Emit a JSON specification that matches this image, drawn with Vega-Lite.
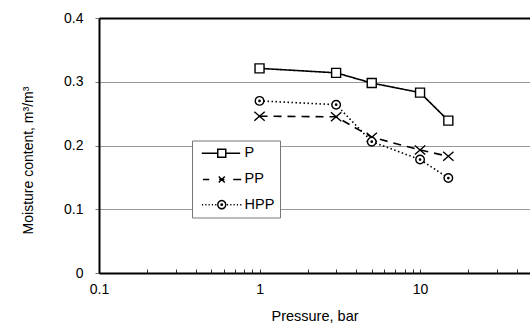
{
  "$schema": "https://vega.github.io/schema/vega-lite/v6.json",
  "width": 431,
  "height": 255,
  "autosize": {"type": "none"},
  "padding": {"left": 99, "top": 18, "right": 0, "bottom": 51},
  "background": "white",
  "config": {
    "view": {"stroke": null},
    "font": "Liberation Sans"
  },
  "data": {
    "values": [
      {"series": "P", "pressure": 1, "moisture": 0.321},
      {"series": "P", "pressure": 3, "moisture": 0.314},
      {"series": "P", "pressure": 5, "moisture": 0.298},
      {"series": "P", "pressure": 10, "moisture": 0.283},
      {"series": "P", "pressure": 15, "moisture": 0.239},
      {"series": "PP", "pressure": 1, "moisture": 0.246},
      {"series": "PP", "pressure": 3, "moisture": 0.245},
      {"series": "PP", "pressure": 5, "moisture": 0.213},
      {"series": "PP", "pressure": 10, "moisture": 0.193},
      {"series": "PP", "pressure": 15, "moisture": 0.183},
      {"series": "HPP", "pressure": 1, "moisture": 0.27},
      {"series": "HPP", "pressure": 3, "moisture": 0.264},
      {"series": "HPP", "pressure": 5, "moisture": 0.206},
      {"series": "HPP", "pressure": 10, "moisture": 0.178},
      {"series": "HPP", "pressure": 15, "moisture": 0.149}
    ]
  },
  "encoding": {
    "x": {
      "field": "pressure",
      "type": "quantitative",
      "scale": {"type": "log", "domain": [0.1, 48.4], "nice": false},
      "axis": {
        "title": "Pressure, bar",
        "titleFontSize": 14.5,
        "titleFontWeight": "normal",
        "titleColor": "black",
        "titlePadding": 13,
        "values": [0.1, 0.2, 0.3, 0.4, 0.5, 0.6, 0.7, 0.8, 0.9, 1, 2, 3, 4, 5, 6, 7, 8, 9, 10, 20, 30, 40],
        "labelExpr": "datum.value == 0.1 || datum.value == 1 || datum.value == 10 ? format(datum.value, '~g') : ''",
        "labelOverlap": false,
        "labelFontSize": 14,
        "labelColor": "black",
        "labelPadding": 13,
        "labelFlush": false,
        "tickSize": -4,
        "tickColor": "#333",
        "domainColor": "black",
        "domainWidth": 2,
        "grid": false
      }
    },
    "y": {
      "field": "moisture",
      "type": "quantitative",
      "scale": {"domain": [0, 0.4], "nice": false},
      "axis": {
        "title": "Moisture content, m³/m³",
        "titleFontSize": 14,
        "titleFontWeight": "normal",
        "titleColor": "black",
        "titlePadding": 28,
        "titleY": 142,
        "values": [0, 0.1, 0.2, 0.3, 0.4],
        "format": "~g",
        "labelFontSize": 14,
        "labelColor": "black",
        "labelPadding": 12,
        "tickSize": 4,
        "tickColor": "#777",
        "domainColor": "black",
        "domainWidth": 2,
        "grid": true,
        "gridColor": {"condition": {"test": "datum.value === 0.4", "value": "black"}, "value": "#999"},
        "gridWidth": {"condition": {"test": "datum.value === 0.4", "value": 2}, "value": 1}
      }
    }
  },
  "resolve": {"scale": {"shape": "independent"}},
  "layer": [
    {
      "mark": {"type": "line", "color": "black", "strokeWidth": 1.6},
      "encoding": {
        "strokeDash": {
          "field": "series",
          "type": "nominal",
          "scale": {"domain": ["P", "PP", "HPP"], "range": [[1, 0], [8, 6], [1.5, 2.5]]},
          "legend": null
        }
      }
    },
    {
      "mark": {"type": "point", "filled": false, "fill": "white", "fillOpacity": 1, "stroke": "black", "strokeWidth": 1.4, "size": 81, "opacity": 1},
      "encoding": {
        "shape": {
          "field": "series",
          "type": "nominal",
          "scale": {
            "domain": ["P", "PP", "HPP"],
            "range": [
              "M-1,-1H1V1H-1Z",
              "M-1.15,-1L1.15,1M-1.15,1L1.15,-1",
              "M-0.95,0A0.95,0.95,0,1,0,0.95,0A0.95,0.95,0,1,0,-0.95,0ZM-0.15,0A0.15,0.15,0,1,0,0.15,0A0.15,0.15,0,1,0,-0.15,0Z"
            ]
          },
          "legend": null
        }
      }
    },
    {
      "mark": {"type": "point", "filled": false, "opacity": 0},
      "encoding": {
        "shape": {
          "field": "series",
          "type": "nominal",
          "scale": {
            "domain": ["P", "PP", "HPP"],
            "range": [
              "M-0.5,0H2.167M3.5,0H5.9M2.167,-0.667H3.5V0.667H2.167Z",
              "M-0.3,0H0.75M4.75,0H6.08M2.333,-0.5L3.333,0.5M2.333,0.5L3.333,-0.5M2.4,0H3.27",
              "M-0.467,0H-0.267M0.083,0H0.283M0.633,0H0.833M1.183,0H1.383M1.733,0H1.933M3.7,0H3.9M4.25,0H4.45M4.8,0H5M5.35,0H5.55M5.9,0H6.1M2.167,0A0.667,0.667,0,1,0,3.5,0A0.667,0.667,0,1,0,2.167,0ZM2.713,0A0.12,0.12,0,1,0,2.953,0A0.12,0.12,0,1,0,2.713,0Z"
            ]
          },
          "legend": {
            "orient": "none",
            "legendX": 93,
            "legendY": 122.5,
            "title": null,
            "symbolSize": 144,
            "symbolStrokeWidth": 1.5,
            "symbolStrokeColor": "black",
            "symbolFillColor": "transparent",
            "symbolOpacity": 1,
            "padding": 5.5,
            "rowPadding": 10.2,
            "labelOffset": 32.5,
            "labelFontSize": 14.5,
            "labelColor": "black",
            "strokeColor": "#777",
            "fillColor": "white"
          }
        }
      }
    }
  ]
}
